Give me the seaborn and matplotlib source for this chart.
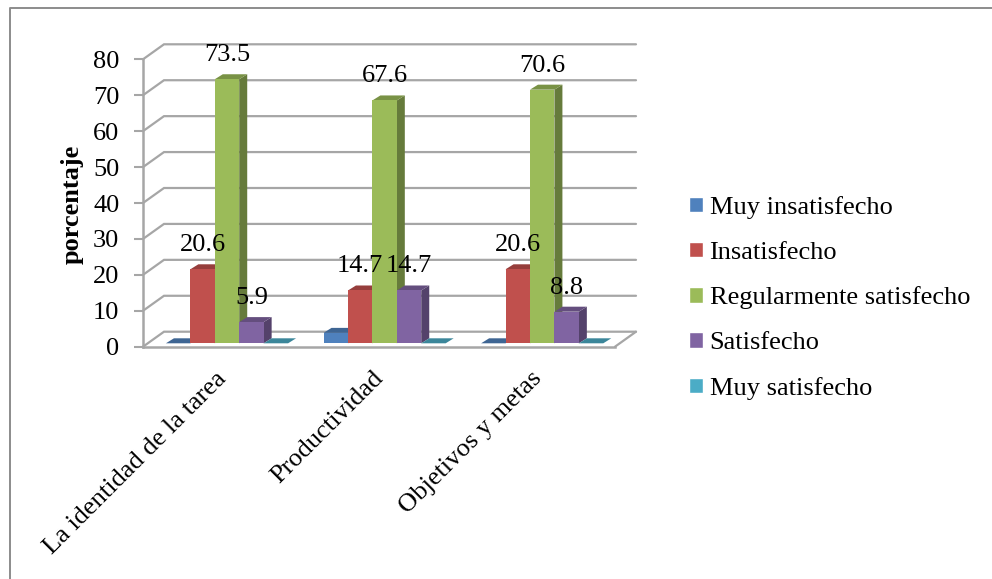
import matplotlib
matplotlib.use("Agg")
import matplotlib.pyplot as plt
from matplotlib.patches import Polygon
from matplotlib.colors import to_rgb
from matplotlib.lines import Line2D
from matplotlib.transforms import Affine2D
import pandas as pd
import seaborn as sns

categories = ["La identidad de la tarea", "Productividad", "Objetivos y metas"]
series = ["Muy insatisfecho", "Insatisfecho", "Regularmente satisfecho", "Satisfecho", "Muy satisfecho"]
muy_insatisfecho = [0, 2.9, 0]
insatisfecho = [20.6, 14.7, 20.6]
regularmente = [73.5, 67.6, 70.6]
satisfecho = [5.9, 14.7, 8.8]
muy_satisfecho = [0, 0, 0]
palette = ["#4F81BD", "#C0504D", "#9BBB59", "#8064A2", "#4BACC6"]
y_ticks = [0, 10, 20, 30, 40, 50, 60, 70, 80]

W, H = 992, 579
GRID = "#A6A6A6"

sns.set_theme(style="white")
plt.rcParams["font.family"] = ["Liberation Serif", "DejaVu Serif"]

frames = []
for name, vals in zip(series, [muy_insatisfecho, insatisfecho, regularmente, satisfecho, muy_satisfecho]):
    frames.append(pd.DataFrame({"tema": categories, "nivel": name, "porcentaje": vals}))
data = pd.concat(frames, ignore_index=True)

fig = plt.figure(figsize=(W / 100, H / 100), dpi=100, facecolor="white")

# Axes rectangle is the front plane of the box, in pixels from the top-left corner.
left, right, top, bottom = 143, 615, 59.3, 346.7
ax = fig.add_axes([left / W, 1 - bottom / H, (right - left) / W, (bottom - top) / H])
ax.patch.set_alpha(0)

sns.barplot(data=data, x="tema", y="porcentaje", hue="nivel", order=categories, hue_order=series,
            palette=palette, saturation=1, width=0.775, gap=0, dodge=True, ax=ax, zorder=3)
handles, labels = ax.get_legend_handles_labels()

ax.set_xlim((left - 227) / 157.6, (right - 227) / 157.6)
ax.set_ylim(0, 80)
px_x = (ax.get_xlim()[1] - ax.get_xlim()[0]) / (right - left)
px_y = 80 / (bottom - top)

# Depth of the box and of the bars, in pixels.
box_dx, box_dy = 21 * px_x, 15 * px_y
bar_dx, bar_dy = 8 * px_x, 5 * px_y
lift = 3.4 * px_y


def shade(color, f):
    return tuple(c * f for c in to_rgb(color))


# Back wall grid with its diagonal returns to the front plane.
xl, xr = ax.get_xlim()
for t in y_ticks:
    ax.add_line(Line2D([xl, xl + box_dx, xr + box_dx], [t, t + box_dy, t + box_dy],
                       color=GRID, lw=1.6, zorder=1, clip_on=False, solid_joinstyle="miter"))
ax.add_line(Line2D([xr, xr + box_dx], [0, box_dy], color=GRID, lw=1.6, zorder=1, clip_on=False))

# Extruded bars: raise each seaborn bar off the floor, then add its side and top.
containers = list(ax.containers)
for color, container in zip(palette, containers):
    for bar in container:
        bar.set_y(bar.get_y() + lift)
        bar.set_clip_on(False)
        bar.set_linewidth(0)
        x0, x1 = bar.get_x(), bar.get_x() + bar.get_width()
        y0, y1 = bar.get_y(), bar.get_y() + bar.get_height()
        if bar.get_height() > 0:
            ax.add_patch(Polygon([(x1, y0), (x1 + bar_dx, y0 + bar_dy), (x1 + bar_dx, y1 + bar_dy), (x1, y1)],
                                 closed=True, fc=shade(color, 0.66), ec="none", zorder=2.9, clip_on=False))
        ax.add_patch(Polygon([(x0, y1), (x0 + bar_dx, y1 + bar_dy), (x1 + bar_dx, y1 + bar_dy), (x1, y1)],
                             closed=True, fc=shade(color, 0.78), ec="none", zorder=2.9, clip_on=False))

# Value labels; the small Muy insatisfecho bar and the empty bars carry none.
for s_idx, container in enumerate(containers):
    if s_idx in (0, 4):
        continue
    for bar in container:
        ax.annotate(f"{bar.get_height():.1f}", (bar.get_x() + bar.get_width() / 2, bar.get_y() + bar.get_height()),
                    xytext=(0, 13), textcoords="offset points", ha="center", va="baseline",
                    fontsize=19, color="black", zorder=5, annotation_clip=False)

sns.despine(ax=ax, top=True, right=True)
for side in ("left", "bottom"):
    ax.spines[side].set_color(GRID)
    ax.spines[side].set_linewidth(1.8)
    ax.spines[side].set_zorder(2)

ax.set_yticks(y_ticks)
ax.tick_params(axis="y", which="major", left=True, length=6.5, width=1.5, color=GRID, pad=10.5, labelsize=19, labelcolor="black")
ax.tick_params(axis="x", which="major", bottom=False, length=0, pad=15, labelsize=19, labelcolor="black")
ax.set_xticks(range(len(categories)))
ax.set_xticklabels(categories, rotation=45, ha="right", rotation_mode="anchor")
for lbl in ax.get_xticklabels():
    lbl.set_transform(lbl.get_transform() + Affine2D().translate(-12, 0))
ax.set_xlabel("")
ax.set_ylabel("")
fig.text(72 / W, 1 - 204 / H, "porcentaje", rotation=90, ha="center", va="center", fontsize=19, fontweight="bold", color="black")

leg = ax.legend(handles, labels, loc="upper left", bbox_to_anchor=(689 / W, 1 - 196 / H), bbox_transform=fig.transFigure,
                frameon=False, fontsize=19, handlelength=0.53, handleheight=0.53, handletextpad=0.25,
                labelspacing=0.86, borderpad=0, borderaxespad=0)
for txt in leg.get_texts():
    txt.set_color("black")

# Outer chart frame, open along the cropped edges.
fig.add_artist(Line2D([10 / W, 10 / W, 1], [0, 1 - 7.5 / H, 1 - 7.5 / H], color="#8C8C8C", lw=1.4, transform=fig.transFigure))

fig.savefig("out.png", dpi=100)
